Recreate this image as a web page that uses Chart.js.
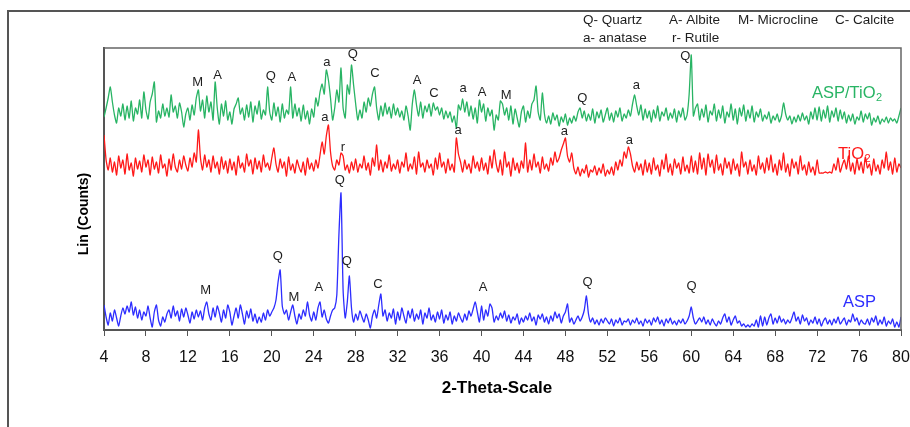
<!DOCTYPE html>
<html>
<head>
<meta charset="utf-8">
<script src="https://cdn.jsdelivr.net/npm/chart.js@4.4.0/dist/chart.umd.min.js"></script>
<style>
  body { margin: 0; background: #fff; }
  #wrap { width: 910px; height: 427px; position: relative; }
</style>
</head>
<body>
<div id="wrap"><canvas id="chart"></canvas></div>
<script>
// 2-theta grid of the scans
const angleStart = 4;
const angleStep = 0.2;
const tickAngles = [4, 8, 12, 16, 20, 24, 28, 32, 36, 40, 44, 48, 52, 56, 60, 64, 68, 72, 76, 80];

// intensities (arbitrary counts, stacked offsets as in the figure)
const aspTio2 = [
  213, 222, 232, 243, 228, 215, 207, 222, 214, 226, 210, 224, 212, 229, 209, 222, 216, 230, 212, 238,
  220, 211, 228, 236, 248, 208, 219, 212, 226, 214, 222, 213, 235, 218, 224, 212, 227, 218, 203, 216,
  222, 210, 225, 215, 232, 240, 219, 230, 212, 234, 218, 228, 210, 248, 222, 206, 226, 214, 229, 210,
  218, 206, 221, 226, 232, 216, 222, 210, 225, 213, 228, 208, 224, 216, 229, 211, 220, 215, 243, 218,
  210, 227, 214, 223, 208, 226, 212, 220, 216, 243, 212, 226, 214, 222, 209, 225, 211, 219, 206, 221,
  213, 232, 224, 238, 246, 236, 260, 250, 232, 210, 222, 240, 228, 262, 222, 212, 245, 236, 265, 245,
  226, 210, 220, 212, 228, 218, 232, 224, 236, 243, 222, 210, 224, 214, 227, 216, 223, 212, 226, 215,
  222, 213, 219, 210, 224, 214, 200, 226, 240, 225, 214, 228, 212, 224, 218, 226, 214, 227, 220, 223,
  215, 222, 211, 219, 212, 218, 208, 214, 202, 225, 220, 231, 218, 228, 214, 224, 211, 222, 207, 230,
  218, 226, 209, 222, 214, 220, 200, 215, 210, 229, 226, 215, 222, 210, 224, 206, 221, 212, 203, 218,
  224, 208, 219, 212, 226, 230, 244, 218, 210, 237, 216, 207, 214, 206, 217, 210, 215, 204, 213, 208,
  216, 205, 212, 207, 214, 209, 218, 222, 212, 219, 209, 216, 210, 221, 207, 218, 212, 220, 208, 215,
  222, 210, 217, 208, 219, 213, 222, 209, 216, 212, 220, 214, 226, 235, 224, 215, 225, 210, 221, 212,
  219, 208, 220, 212, 224, 209, 218, 214, 222, 210, 217, 212, 221, 208, 219, 213, 222, 210, 215, 236,
  275, 214, 222, 226, 210, 221, 213, 225, 208, 219, 215, 226, 209, 220, 212, 224, 207, 218, 213, 226,
  210, 221, 206, 222, 214, 225, 209, 220, 212, 224, 208, 218, 213, 221, 209, 215, 211, 218, 207, 214,
  210, 216, 208, 214, 227, 216, 210, 214, 206, 213, 208, 215, 209, 217, 210, 214, 206, 218, 211, 222,
  210, 223, 209, 220, 212, 224, 208, 219, 213, 222, 209, 220, 211, 218, 207, 215, 209, 216, 206, 213,
  210, 219, 208, 216, 211, 217, 205, 212, 208, 214, 206, 211, 208, 213, 207, 212, 209, 211, 207, 214,
  222
];
const tio2 = [
  195, 170, 160, 172, 158, 168, 155, 174, 162, 170, 156, 176, 160, 167, 154, 172, 161, 169, 158, 175,
  163, 170, 155, 173, 161, 168, 157, 175, 162, 166, 154, 171, 160, 176, 163, 158, 170, 161, 174, 165,
  159, 172, 163, 177, 168, 200, 172, 160, 175, 163, 170, 158, 174, 162, 168, 156, 173, 161, 169, 157,
  171, 160, 168, 155, 174, 162, 167, 158, 176, 164, 170, 156, 172, 161, 169, 158, 175, 163, 167, 160,
  172, 182, 166, 158, 171, 162, 168, 154, 173, 160, 166, 157, 170, 163, 158, 168, 155, 172, 161, 167,
  159, 170, 162, 175, 188, 176, 194, 205, 178, 164, 160, 170, 165, 177, 174, 160, 165, 157, 168, 160,
  171, 158, 166, 162, 174, 160, 167, 155, 172, 164, 185, 160, 170, 158, 168, 162, 175, 159, 166, 161,
  170, 157, 168, 163, 177, 159, 166, 161, 173, 156, 178, 163, 167, 158, 170, 162, 166, 155, 172, 161,
  177, 163, 168, 157, 171, 160, 166, 158, 192, 176, 168, 158, 170, 161, 166, 157, 174, 162, 168, 159,
  172, 160, 167, 156, 174, 162, 180, 166, 158, 170, 155, 178, 163, 168, 154, 172, 160, 167, 157, 169,
  162, 187, 158, 170, 160, 176, 163, 168, 157, 173, 161, 166, 159, 172, 165, 178, 168, 172, 180, 186,
  192, 174, 168, 177, 162, 156, 163, 154, 161, 157, 165, 153, 160, 158, 164, 155, 162, 157, 166, 154,
  160, 156, 163, 155, 168, 160, 170, 164, 178, 172, 183, 176, 164, 158, 168, 160, 166, 155, 170, 158,
  167, 156, 172, 160, 165, 154, 170, 161, 176, 158, 166, 155, 171, 162, 167, 156, 173, 159, 165, 157,
  174, 158, 169, 156, 177, 161, 172, 155, 176, 163, 170, 157, 175, 160, 166, 155, 172, 162, 168, 156,
  171, 160, 166, 154, 178, 163, 168, 156, 170, 159, 165, 155, 174, 161, 167, 157, 172, 160, 175, 158,
  166, 155, 170, 160, 177, 158, 166, 154, 171, 162, 168, 156, 174, 160, 165, 155, 168, 158, 163, 155,
  170, 157, 157, 157, 158, 157, 158, 157, 166, 160, 172, 158, 165, 170, 161, 174, 159, 167, 156, 171,
  160, 168, 157, 173, 162, 166, 155, 171, 159, 165, 156, 170, 162, 178, 160, 168, 156, 172, 158, 166,
  162
];
const asp = [
  25, 13, 5, 17, 9, 20, 12, 4, 14, 22, 16, 24, 18, 28, 15, 23, 12, 20, 10, 18,
  14, 24, 12, 3, 18, 25, 10, 4, 13, 8, 16, 20, 12, 24, 14, 19, 9, 21, 13, 22,
  15, 7, 18, 11, 20, 13, 19, 10, 22, 28, 16, 10, 22, 13, 24, 17, 8, 20, 12, 25,
  18, 5, 14, 22, 12, 25, 16, 6, 19, 12, 21, 9, 16, 7, 13, 8, 17, 10, 20, 14,
  18, 22, 30, 48, 60, 24, 16, 20, 10, 18, 25, 14, 6, 16, 11, 20, 14, 28, 15, 9,
  18, 10, 22, 28, 13, 20, 11, 7, 14, 20, 22, 35, 95, 137, 40, 12, 28, 54, 22, 8,
  16, 10, 19, 13, 8, 16, 10, 2, 14, 20, 12, 25, 36, 14, 20, 9, 17, 12, 21, 6,
  18, 10, 22, 14, 7, 19, 12, 21, 9, 16, 11, 20, 6, 17, 12, 22, 10, 15, 8, 18,
  11, 20, 7, 15, 10, 18, 6, 14, 9, 17, 12, 8, 16, 10, 19, 14, 21, 28, 18, 8,
  24, 10, 20, 14, 26, 22, 8, 14, 10, 17, 12, 19, 9, 15, 7, 13, 10, 16, 6, 12,
  8, 14, 10, 17, 9, 13, 5, 15, 11, 16, 8, 13, 6, 14, 9, 18, 12, 16, 7, 14,
  18, 26, 8, 12, 6, 10, 14, 9, 13, 20, 34, 16, 8, 12, 6, 10, 5, 11, 7, 12,
  9, 6, 11, 4, 10, 7, 12, 5, 9, 8, 11, 5, 10, 7, 12, 6, 9, 4, 11, 7,
  10, 5, 12, 8, 13, 6, 10, 4, 11, 7, 12, 6, 9, 5, 10, 7, 11, 6, 9, 14,
  23, 12, 6, 9, 12, 8, 13, 6, 10, 5, 11, 7, 4, 9, 6, 12, 16, 8, 13, 5,
  10, 14, 7, 9, 4, 6, 3, 5, 3, 6, 4, 10, 3, 14, 4, 13, 5, 12, 16, 6,
  12, 7, 14, 8, 11, 6, 10, 7, 12, 18, 9, 13, 6, 15, 9, 12, 5, 10, 7, 13,
  6, 11, 4, 9, 12, 6, 10, 5, 11, 7, 13, 6, 9, 12, 5, 10, 8, 16, 9, 12,
  5, 10, 7, 6, 11, 5, 12, 8, 14, 5, 10, 6, 13, 4, 9, 6, 11, 3, 8, 3,
  13
];

// phase labels above peaks: angle, intensity, letter
const greenLabelAngles = [12.93, 14.84, 19.9, 21.91, 25.25, 27.73, 29.84, 33.85, 35.47, 38.24, 40.06, 42.35, 49.6, 54.76, 59.44];
const greenLabelValues = [248, 255, 254, 253, 268, 276, 257, 250, 237, 242, 238, 235, 232, 245, 274];
const greenLabelTexts = ['M', 'A', 'Q', 'A', 'a', 'Q', 'C', 'A', 'C', 'a', 'A', 'M', 'Q', 'a', 'Q'];
const redLabelAngles = [25.06, 26.78, 37.76, 47.89, 54.1];
const redLabelValues = [213, 183, 200, 199, 190];
const redLabelTexts = ['a', 'r', 'a', 'a', 'a'];
const blueLabelAngles = [26.49, 20.57, 13.69, 22.1, 24.49, 27.16, 30.12, 40.15, 50.1, 60.02];
const blueLabelValues = [150, 74, 40, 33, 43, 69, 46, 43, 48, 44];
const blueLabelTexts = ['Q', 'Q', 'M', 'M', 'A', 'Q', 'C', 'A', 'Q', 'Q'];

const GREEN = 'rgb(40,180,100)';
const RED = 'rgb(255,25,25)';
const BLUE = 'rgb(45,45,255)';

function toPoints(values) {
  return values.map((v, i) => ({ x: angleStart + i * angleStep, y: v }));
}

const decor = {
  id: 'decor',
  beforeDraw(chart) {
    const c = chart.ctx;
    c.save();
    c.fillStyle = '#fff';
    c.fillRect(0, 0, chart.width, chart.height);
    // outer frame
    c.strokeStyle = '#555';
    c.lineWidth = 2;
    c.beginPath();
    c.moveTo(8, 427);
    c.lineTo(8, 11);
    c.lineTo(910, 11);
    c.stroke();
    c.restore();
  },
  afterDraw(chart) {
    const c = chart.ctx;
    const a = chart.chartArea;
    const xs = chart.scales.x, ys = chart.scales.y;
    c.save();
    // top and right of plot box
    c.strokeStyle = '#666';
    c.lineWidth = 1.5;
    c.beginPath();
    c.moveTo(a.left, a.top);
    c.lineTo(a.right, a.top);
    c.lineTo(a.right, a.bottom);
    c.stroke();

    // peak letters
    c.font = '13px "Liberation Sans", Arial, sans-serif';
    c.fillStyle = '#1e1e1e';
    c.textAlign = 'center';
    c.textBaseline = 'middle';
    const put = (angs, vals, txts) => angs.forEach((t, i) => {
      c.fillText(txts[i], xs.getPixelForValue(t), ys.getPixelForValue(vals[i]));
    });
    put(greenLabelAngles, greenLabelValues, greenLabelTexts);
    put(redLabelAngles, redLabelValues, redLabelTexts);
    put(blueLabelAngles, blueLabelValues, blueLabelTexts);

    // phase key
    c.font = '13.5px "Liberation Sans", Arial, sans-serif';
    c.textAlign = 'left';
    c.fillText('Q- Quartz', 583, 20);
    c.fillText('A- Albite', 669, 20);
    c.fillText('M- Microcline', 738, 20);
    c.fillText('C- Calcite', 835, 20);
    c.fillText('a- anatase', 583, 38);
    c.fillText('r- Rutile', 672, 38);

    // series names
    const sub = (txt, subTxt, x, y, col) => {
      c.fillStyle = col;
      c.font = '16.5px "Liberation Sans", Arial, sans-serif';
      c.textAlign = 'left';
      c.fillText(txt, x, y);
      const w = c.measureText(txt).width;
      if (subTxt) {
        c.font = '11px "Liberation Sans", Arial, sans-serif';
        c.fillText(subTxt, x + w + 0.5, y + 5);
      }
    };
    sub('ASP/TiO', '2', 812, 93, GREEN);
    sub('TiO', '2', 838, 154, RED);
    sub('ASP', '', 843, 302, BLUE);

    // axis titles
    c.fillStyle = '#000';
    c.font = 'bold 17px "Liberation Sans", Arial, sans-serif';
    c.textAlign = 'center';
    c.fillText('2-Theta-Scale', 497, 388);
    c.translate(84, 214);
    c.rotate(-Math.PI / 2);
    c.font = 'bold 14px "Liberation Sans", Arial, sans-serif';
    c.fillText('Lin (Counts)', 0, 0);
    c.restore();
  }
};

new Chart(document.getElementById('chart'), {
  type: 'line',
  data: {
    datasets: [
      { label: 'ASP/TiO2', data: toPoints(aspTio2), borderColor: GREEN, borderWidth: 1.3, pointRadius: 0, tension: 0.2 },
      { label: 'TiO2', data: toPoints(tio2), borderColor: RED, borderWidth: 1.3, pointRadius: 0, tension: 0.2 },
      { label: 'ASP', data: toPoints(asp), borderColor: BLUE, borderWidth: 1.3, pointRadius: 0, tension: 0.2 },
    ],
  },
  options: {
    responsive: true,
    maintainAspectRatio: false,
    animation: false,
    layout: { padding: { left: 104, right: 9, top: 48, bottom: 0 } },
    plugins: { legend: { display: false }, tooltip: { enabled: false } },
    scales: {
      x: {
        type: 'linear',
        min: 4,
        max: 80,
        afterFit(s) { s.height = 97; s.paddingLeft = 0; s.paddingRight = 0; },
        afterBuildTicks(s) { s.ticks = tickAngles.map(v => ({ value: v })); },
        ticks: {
          color: '#111',
          padding: 12,
          font: { family: '"Liberation Sans", Arial', size: 16 },
        },
        grid: { display: true, drawOnChartArea: false, drawTicks: true, tickLength: 6, color: '#555' },
        border: { display: true, color: '#555', width: 2 },
      },
      y: {
        min: 0,
        max: 282,
        afterFit(s) { s.width = 0; },
        ticks: { display: false },
        grid: { display: false },
        border: { display: true, color: '#555', width: 2 },
      },
    },
  },
  plugins: [decor],
});
</script>
</body>
</html>
